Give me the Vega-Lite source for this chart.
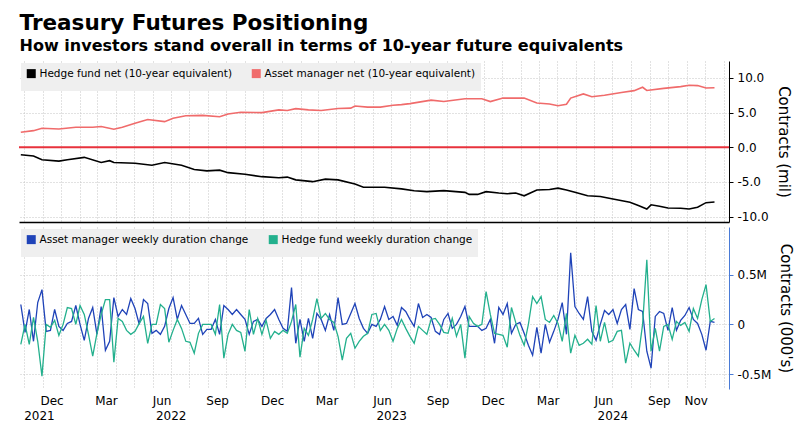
{
  "$schema": "https://vega.github.io/schema/vega-lite/v6.json",
  "padding": {"left": 17, "top": 12, "right": 4, "bottom": 0},
  "title": {
    "text": "Treasury Futures Positioning",
    "subtitle": "How investors stand overall in terms of 10-year future equivalents",
    "anchor": "start",
    "dx": 2,
    "font": "DejaVu Sans",
    "fontSize": 21.5,
    "fontWeight": "bold",
    "color": "#000000",
    "subtitleFont": "DejaVu Sans",
    "subtitleFontSize": 16,
    "subtitleFontWeight": "bold",
    "subtitleColor": "#000000",
    "subtitlePadding": 4,
    "offset": 7
  },
  "config": {
    "font": "DejaVu Sans",
    "view": {"stroke": null},
    "axis": {"labelFont": "DejaVu Sans", "titleFont": "DejaVu Sans", "labelColor": "#000000", "titleColor": "#000000", "titleFontWeight": "normal"},
    "legend": {
      "orient": "top-left",
      "offset": 2,
      "direction": "horizontal",
      "fillColor": "#efefef",
      "padding": 5,
      "symbolType": "square",
      "symbolSize": 16,
      "symbolStrokeWidth": 5,
      "labelFont": "DejaVu Sans",
      "labelFontSize": 10.5,
      "labelColor": "#000000",
      "labelOffset": 3,
      "labelLimit": 400,
      "columnPadding": 12,
      "title": null
    }
  },
  "resolve": {"scale": {"color": "independent", "y": "independent"}, "legend": {"color": "independent"}},
  "datasets": {
    "hedgeNet": [
      {"d": "2021-10-26", "v": -1.07}, {"d": "2021-11-16", "v": -1.25}, {"d": "2021-11-30", "v": -1.8}, {"d": "2021-12-28", "v": -2.0},
      {"d": "2022-01-11", "v": -1.8}, {"d": "2022-02-08", "v": -1.45}, {"d": "2022-03-08", "v": -2.2}, {"d": "2022-03-22", "v": -1.93},
      {"d": "2022-03-29", "v": -2.2}, {"d": "2022-05-03", "v": -2.3}, {"d": "2022-05-31", "v": -2.6}, {"d": "2022-06-21", "v": -2.2},
      {"d": "2022-07-19", "v": -2.6}, {"d": "2022-08-09", "v": -3.2}, {"d": "2022-08-30", "v": -3.4}, {"d": "2022-09-20", "v": -3.3},
      {"d": "2022-10-04", "v": -3.66}, {"d": "2022-11-01", "v": -3.9}, {"d": "2022-11-29", "v": -4.24}, {"d": "2022-12-27", "v": -4.4},
      {"d": "2023-01-10", "v": -4.3}, {"d": "2023-01-24", "v": -4.7}, {"d": "2023-02-21", "v": -4.96}, {"d": "2023-03-14", "v": -4.6},
      {"d": "2023-04-04", "v": -4.7}, {"d": "2023-05-02", "v": -5.3}, {"d": "2023-05-16", "v": -5.77}, {"d": "2023-06-20", "v": -5.77},
      {"d": "2023-07-18", "v": -6.0}, {"d": "2023-08-08", "v": -6.26}, {"d": "2023-08-29", "v": -6.4}, {"d": "2023-09-26", "v": -6.26},
      {"d": "2023-10-31", "v": -6.5}, {"d": "2023-11-07", "v": -6.8}, {"d": "2023-11-21", "v": -6.8}, {"d": "2023-12-05", "v": -6.4},
      {"d": "2023-12-26", "v": -6.6}, {"d": "2024-01-09", "v": -6.7}, {"d": "2024-01-23", "v": -6.6}, {"d": "2024-02-06", "v": -7.0},
      {"d": "2024-02-27", "v": -6.16}, {"d": "2024-03-19", "v": -6.1}, {"d": "2024-04-02", "v": -5.9}, {"d": "2024-04-16", "v": -6.16},
      {"d": "2024-04-30", "v": -6.5}, {"d": "2024-05-21", "v": -7.0}, {"d": "2024-06-11", "v": -7.1}, {"d": "2024-07-02", "v": -7.45},
      {"d": "2024-07-30", "v": -7.94}, {"d": "2024-08-13", "v": -8.4}, {"d": "2024-08-27", "v": -8.9}, {"d": "2024-09-03", "v": -8.3},
      {"d": "2024-09-17", "v": -8.5}, {"d": "2024-10-01", "v": -8.76}, {"d": "2024-10-22", "v": -8.8}, {"d": "2024-11-05", "v": -8.9},
      {"d": "2024-11-19", "v": -8.65}, {"d": "2024-12-03", "v": -7.99}, {"d": "2024-12-17", "v": -7.9}
    ],
    "assetNet": [
      {"d": "2021-10-26", "v": 2.16}, {"d": "2021-11-16", "v": 2.4}, {"d": "2021-11-30", "v": 2.74}, {"d": "2021-12-28", "v": 2.64},
      {"d": "2022-01-25", "v": 2.9}, {"d": "2022-02-22", "v": 2.9}, {"d": "2022-03-08", "v": 3.0}, {"d": "2022-03-29", "v": 2.6},
      {"d": "2022-04-12", "v": 2.9}, {"d": "2022-05-03", "v": 3.46}, {"d": "2022-05-24", "v": 4.0}, {"d": "2022-06-21", "v": 3.7},
      {"d": "2022-07-05", "v": 4.2}, {"d": "2022-07-26", "v": 4.56}, {"d": "2022-08-23", "v": 4.6}, {"d": "2022-09-20", "v": 4.4},
      {"d": "2022-10-04", "v": 4.8}, {"d": "2022-10-25", "v": 5.05}, {"d": "2022-11-29", "v": 5.0}, {"d": "2022-12-27", "v": 5.4},
      {"d": "2023-01-10", "v": 5.3}, {"d": "2023-01-24", "v": 5.57}, {"d": "2023-02-14", "v": 5.4}, {"d": "2023-03-07", "v": 5.3},
      {"d": "2023-04-04", "v": 5.6}, {"d": "2023-04-25", "v": 5.65}, {"d": "2023-05-02", "v": 5.96}, {"d": "2023-05-23", "v": 5.8},
      {"d": "2023-06-13", "v": 5.8}, {"d": "2023-07-04", "v": 6.06}, {"d": "2023-07-18", "v": 6.15}, {"d": "2023-08-01", "v": 6.3},
      {"d": "2023-09-05", "v": 6.8}, {"d": "2023-09-26", "v": 6.6}, {"d": "2023-10-31", "v": 7.0}, {"d": "2023-11-28", "v": 7.0},
      {"d": "2023-12-12", "v": 6.6}, {"d": "2024-01-02", "v": 7.1}, {"d": "2024-02-06", "v": 7.1}, {"d": "2024-02-27", "v": 6.4},
      {"d": "2024-03-19", "v": 6.25}, {"d": "2024-04-02", "v": 6.0}, {"d": "2024-04-16", "v": 6.2}, {"d": "2024-04-23", "v": 7.1},
      {"d": "2024-05-14", "v": 7.7}, {"d": "2024-05-28", "v": 7.3}, {"d": "2024-06-18", "v": 7.5}, {"d": "2024-07-16", "v": 7.9},
      {"d": "2024-08-06", "v": 8.17}, {"d": "2024-08-20", "v": 8.66}, {"d": "2024-08-27", "v": 8.2}, {"d": "2024-09-24", "v": 8.5},
      {"d": "2024-10-22", "v": 8.75}, {"d": "2024-11-05", "v": 8.95}, {"d": "2024-11-19", "v": 8.9}, {"d": "2024-12-03", "v": 8.55},
      {"d": "2024-12-17", "v": 8.6}
    ],
    "weekly": [
      {"d": "2021-10-26", "a": 0.20, "h": -0.20}, {"d": "2021-11-02", "a": -0.08, "h": 0.00}, {"d": "2021-11-09", "a": 0.15, "h": -0.20},
      {"d": "2021-11-16", "a": -0.17, "h": 0.07}, {"d": "2021-11-23", "a": 0.22, "h": -0.17}, {"d": "2021-11-30", "a": 0.35, "h": -0.52},
      {"d": "2021-12-07", "a": -0.07, "h": 0.00}, {"d": "2021-12-14", "a": -0.06, "h": -0.03}, {"d": "2021-12-21", "a": 0.15, "h": 0.04},
      {"d": "2021-12-28", "a": -0.02, "h": -0.11}, {"d": "2022-01-04", "a": -0.06, "h": 0.00}, {"d": "2022-01-11", "a": 0.01, "h": 0.17},
      {"d": "2022-01-18", "a": 0.03, "h": 0.16}, {"d": "2022-01-25", "a": 0.19, "h": 0.00}, {"d": "2022-02-01", "a": 0.00, "h": 0.19},
      {"d": "2022-02-08", "a": -0.16, "h": 0.10}, {"d": "2022-02-15", "a": 0.06, "h": -0.10}, {"d": "2022-02-22", "a": 0.17, "h": -0.32},
      {"d": "2022-03-01", "a": -0.10, "h": -0.09}, {"d": "2022-03-08", "a": 0.18, "h": 0.10}, {"d": "2022-03-15", "a": -0.26, "h": 0.25},
      {"d": "2022-03-22", "a": -0.17, "h": 0.25}, {"d": "2022-03-29", "a": 0.27, "h": -0.38}, {"d": "2022-04-05", "a": 0.08, "h": 0.06},
      {"d": "2022-04-12", "a": 0.15, "h": 0.03}, {"d": "2022-04-19", "a": 0.10, "h": -0.06}, {"d": "2022-04-26", "a": 0.26, "h": -0.10},
      {"d": "2022-05-03", "a": 0.16, "h": -0.07}, {"d": "2022-05-10", "a": 0.00, "h": 0.01}, {"d": "2022-05-17", "a": 0.25, "h": 0.08},
      {"d": "2022-05-24", "a": 0.21, "h": -0.19}, {"d": "2022-05-31", "a": -0.09, "h": 0.00}, {"d": "2022-06-07", "a": -0.06, "h": 0.00},
      {"d": "2022-06-14", "a": -0.10, "h": 0.20}, {"d": "2022-06-21", "a": -0.02, "h": 0.16}, {"d": "2022-06-28", "a": 0.16, "h": -0.18},
      {"d": "2022-07-05", "a": 0.27, "h": -0.06}, {"d": "2022-07-12", "a": 0.05, "h": 0.05}, {"d": "2022-07-19", "a": 0.19, "h": -0.04},
      {"d": "2022-07-26", "a": 0.10, "h": -0.17}, {"d": "2022-08-02", "a": 0.01, "h": -0.18}, {"d": "2022-08-09", "a": 0.01, "h": -0.29},
      {"d": "2022-08-16", "a": 0.06, "h": -0.09}, {"d": "2022-08-23", "a": -0.10, "h": 0.00}, {"d": "2022-08-30", "a": -0.05, "h": 0.00},
      {"d": "2022-09-06", "a": -0.05, "h": 0.00}, {"d": "2022-09-13", "a": 0.05, "h": -0.10}, {"d": "2022-09-20", "a": -0.10, "h": 0.20},
      {"d": "2022-09-27", "a": 0.19, "h": -0.34}, {"d": "2022-10-04", "a": 0.15, "h": -0.10}, {"d": "2022-10-11", "a": 0.10, "h": 0.00},
      {"d": "2022-10-18", "a": 0.15, "h": -0.06}, {"d": "2022-10-25", "a": 0.10, "h": -0.08}, {"d": "2022-11-01", "a": 0.05, "h": -0.27},
      {"d": "2022-11-08", "a": -0.10, "h": 0.15}, {"d": "2022-11-15", "a": 0.03, "h": -0.10}, {"d": "2022-11-22", "a": 0.05, "h": 0.06},
      {"d": "2022-11-29", "a": -0.02, "h": -0.10}, {"d": "2022-12-06", "a": 0.06, "h": 0.04}, {"d": "2022-12-13", "a": 0.10, "h": -0.14},
      {"d": "2022-12-20", "a": 0.15, "h": -0.07}, {"d": "2022-12-27", "a": 0.05, "h": -0.10}, {"d": "2023-01-03", "a": -0.04, "h": -0.06},
      {"d": "2023-01-10", "a": -0.07, "h": -0.09}, {"d": "2023-01-17", "a": 0.37, "h": 0.03}, {"d": "2023-01-24", "a": -0.19, "h": 0.20},
      {"d": "2023-01-31", "a": 0.05, "h": -0.33}, {"d": "2023-02-07", "a": -0.17, "h": -0.04}, {"d": "2023-02-14", "a": 0.06, "h": -0.11},
      {"d": "2023-02-21", "a": -0.14, "h": 0.05}, {"d": "2023-02-28", "a": 0.11, "h": 0.26}, {"d": "2023-03-07", "a": 0.05, "h": 0.06},
      {"d": "2023-03-14", "a": -0.06, "h": 0.11}, {"d": "2023-03-21", "a": 0.10, "h": 0.05}, {"d": "2023-03-28", "a": -0.06, "h": 0.02},
      {"d": "2023-04-04", "a": 0.27, "h": -0.12}, {"d": "2023-04-11", "a": 0.00, "h": -0.36}, {"d": "2023-04-18", "a": 0.01, "h": -0.14},
      {"d": "2023-04-25", "a": 0.11, "h": -0.09}, {"d": "2023-05-02", "a": 0.21, "h": -0.24}, {"d": "2023-05-09", "a": 0.06, "h": -0.17},
      {"d": "2023-05-16", "a": -0.04, "h": -0.12}, {"d": "2023-05-23", "a": -0.09, "h": -0.09}, {"d": "2023-05-30", "a": 0.00, "h": 0.10},
      {"d": "2023-06-06", "a": -0.02, "h": 0.11}, {"d": "2023-06-13", "a": 0.05, "h": -0.06}, {"d": "2023-06-20", "a": 0.18, "h": 0.00},
      {"d": "2023-06-27", "a": 0.05, "h": -0.06}, {"d": "2023-07-04", "a": 0.08, "h": -0.17}, {"d": "2023-07-11", "a": -0.01, "h": -0.04},
      {"d": "2023-07-18", "a": 0.17, "h": 0.05}, {"d": "2023-07-25", "a": 0.13, "h": -0.04}, {"d": "2023-08-01", "a": 0.05, "h": -0.12},
      {"d": "2023-08-08", "a": -0.02, "h": -0.19}, {"d": "2023-08-15", "a": 0.21, "h": -0.02}, {"d": "2023-08-22", "a": 0.07, "h": -0.06},
      {"d": "2023-08-29", "a": 0.10, "h": -0.10}, {"d": "2023-09-05", "a": 0.07, "h": 0.05}, {"d": "2023-09-12", "a": -0.07, "h": 0.06},
      {"d": "2023-09-19", "a": -0.10, "h": 0.00}, {"d": "2023-09-26", "a": 0.05, "h": -0.08}, {"d": "2023-10-03", "a": 0.11, "h": -0.09},
      {"d": "2023-10-10", "a": -0.04, "h": 0.06}, {"d": "2023-10-17", "a": 0.00, "h": -0.12}, {"d": "2023-10-24", "a": 0.08, "h": 0.00},
      {"d": "2023-10-31", "a": 0.18, "h": -0.34}, {"d": "2023-11-07", "a": -0.02, "h": 0.08}, {"d": "2023-11-14", "a": -0.02, "h": 0.01},
      {"d": "2023-11-21", "a": -0.02, "h": -0.02}, {"d": "2023-11-28", "a": -0.06, "h": 0.00}, {"d": "2023-12-05", "a": -0.04, "h": 0.33},
      {"d": "2023-12-12", "a": 0.05, "h": 0.10}, {"d": "2023-12-19", "a": -0.19, "h": -0.09}, {"d": "2023-12-26", "a": 0.17, "h": -0.10},
      {"d": "2024-01-02", "a": 0.10, "h": -0.11}, {"d": "2024-01-09", "a": 0.21, "h": -0.23}, {"d": "2024-01-16", "a": -0.09, "h": 0.17},
      {"d": "2024-01-23", "a": 0.00, "h": 0.02}, {"d": "2024-01-30", "a": 0.02, "h": -0.11}, {"d": "2024-02-06", "a": -0.09, "h": -0.21},
      {"d": "2024-02-13", "a": -0.21, "h": 0.00}, {"d": "2024-02-20", "a": -0.31, "h": 0.28}, {"d": "2024-02-27", "a": -0.03, "h": 0.21},
      {"d": "2024-03-05", "a": -0.29, "h": 0.28}, {"d": "2024-03-12", "a": 0.00, "h": 0.05}, {"d": "2024-03-19", "a": -0.18, "h": 0.02},
      {"d": "2024-03-26", "a": -0.07, "h": 0.09}, {"d": "2024-04-02", "a": 0.05, "h": 0.01}, {"d": "2024-04-09", "a": 0.22, "h": -0.17},
      {"d": "2024-04-16", "a": -0.10, "h": 0.11}, {"d": "2024-04-23", "a": 0.72, "h": -0.29}, {"d": "2024-04-30", "a": 0.18, "h": -0.11},
      {"d": "2024-05-07", "a": 0.11, "h": -0.21}, {"d": "2024-05-14", "a": 0.05, "h": -0.19}, {"d": "2024-05-21", "a": 0.28, "h": -0.15},
      {"d": "2024-05-28", "a": -0.07, "h": -0.20}, {"d": "2024-06-04", "a": -0.16, "h": 0.19}, {"d": "2024-06-11", "a": 0.00, "h": -0.17},
      {"d": "2024-06-18", "a": 0.14, "h": 0.02}, {"d": "2024-06-25", "a": 0.10, "h": -0.18}, {"d": "2024-07-02", "a": 0.15, "h": -0.16},
      {"d": "2024-07-09", "a": 0.01, "h": -0.07}, {"d": "2024-07-16", "a": 0.15, "h": -0.06}, {"d": "2024-07-23", "a": 0.20, "h": -0.39},
      {"d": "2024-07-30", "a": -0.05, "h": -0.19}, {"d": "2024-08-06", "a": 0.36, "h": -0.26}, {"d": "2024-08-13", "a": 0.15, "h": -0.32},
      {"d": "2024-08-20", "a": 0.13, "h": 0.00}, {"d": "2024-08-27", "a": -0.27, "h": 0.65}, {"d": "2024-09-03", "a": -0.44, "h": -0.27},
      {"d": "2024-09-10", "a": 0.08, "h": -0.04}, {"d": "2024-09-17", "a": 0.13, "h": -0.27}, {"d": "2024-09-24", "a": 0.11, "h": -0.02},
      {"d": "2024-10-01", "a": -0.06, "h": 0.00}, {"d": "2024-10-08", "a": 0.17, "h": -0.15}, {"d": "2024-10-15", "a": -0.06, "h": 0.03},
      {"d": "2024-10-22", "a": 0.04, "h": -0.01}, {"d": "2024-10-29", "a": 0.09, "h": 0.02}, {"d": "2024-11-05", "a": 0.17, "h": -0.07},
      {"d": "2024-11-12", "a": 0.05, "h": 0.16}, {"d": "2024-11-19", "a": 0.01, "h": 0.06}, {"d": "2024-11-26", "a": -0.10, "h": 0.25},
      {"d": "2024-12-03", "a": -0.26, "h": 0.40}, {"d": "2024-12-10", "a": 0.03, "h": 0.03}, {"d": "2024-12-17", "a": 0.02, "h": 0.06}
    ]
  },
  "spacing": 4,
  "vconcat": [
    {
      "width": 710,
      "height": 161,
      "layer": [
        {
          "data": {"name": "hedgeNet"},
          "mark": {"type": "line", "strokeWidth": 1.6},
          "encoding": {
            "x": {
              "field": "d", "type": "temporal",
              "scale": {"domain": [{"year": 2021, "month": 10, "date": 23}, {"year": 2025, "month": 1, "date": 10}]},
              "axis": {"title": null, "labels": false, "ticks": false, "domain": true, "domainColor": "#000000", "domainWidth": 1.5, "grid": true, "gridColor": "#c4c4c4", "gridDash": [1, 2], "tickCount": {"interval": "month", "step": 1}}
            },
            "y": {
              "field": "v", "type": "quantitative",
              "scale": {"domain": [-10.78, 12.45], "nice": false, "zero": false},
              "axis": {
                "orient": "right", "title": "Contracts (mil)", "titleFontSize": 15, "titlePadding": 7,
                "values": [-10, -7.5, -5, -2.5, 0, 2.5, 5, 7.5, 10],
                "labelExpr": "datum.value % 5 == 0 ? (datum.value < 0 ? '-' : '') + format(abs(datum.value), '.1f') : ''",
                "labelFontSize": 12, "labelPadding": 4, "tickSize": 4, "tickColor": "#000000", "domainColor": "#000000",
                "grid": true, "gridColor": "#c4c4c4", "gridDash": [1, 2],
                "gridOpacity": {"condition": {"test": "datum.value % 5 != 0", "value": 0}, "value": 1}
              }
            },
            "color": {
              "datum": "Hedge fund net (10-year equivalent)",
              "scale": {"domain": ["Hedge fund net (10-year equivalent)", "Asset manager net (10-year equivalent)"], "range": ["#000000", "#f06b6b"]}
            }
          }
        },
        {
          "data": {"name": "assetNet"},
          "mark": {"type": "line", "strokeWidth": 1.6},
          "encoding": {
            "x": {"field": "d", "type": "temporal"},
            "y": {"field": "v", "type": "quantitative"},
            "color": {"datum": "Asset manager net (10-year equivalent)"}
          }
        },
        {
          "data": {"values": [{"z": 0}]},
          "mark": {"type": "rule", "color": "#e8323c", "strokeWidth": 2},
          "encoding": {"y": {"field": "z", "type": "quantitative", "title": "Contracts (mil)"}}
        }
      ]
    },
    {
      "width": 710,
      "height": 162,
      "data": {"name": "weekly"},
      "resolve": {"axis": {"x": "independent"}},
      "layer": [
        {
          "mark": {"type": "line", "strokeWidth": 1.3},
          "encoding": {
            "x": {
              "field": "d", "type": "temporal",
              "scale": {"domain": [{"year": 2021, "month": 10, "date": 23}, {"year": 2025, "month": 1, "date": 10}]},
              "axis": {
                "orient": "bottom", "title": null, "tickCount": {"interval": "month", "step": 1},
                "labelExpr": "((month(datum.value) % 3 == 2) && !(year(datum.value) == 2024 && month(datum.value) == 11)) || (year(datum.value) == 2024 && month(datum.value) == 10) ? timeFormat(datum.value, '%b') : ''",
                "labelOffset": 9, "labelFlush": false, "labelOverlap": false, "labelPadding": 6, "labelFontSize": 12,
                "ticks": false, "domain": false, "grid": true, "gridColor": "#c4c4c4", "gridDash": [1, 2]
              }
            },
            "y": {
              "field": "a", "type": "quantitative",
              "scale": {"domain": [-0.65, 0.98], "nice": false, "zero": false},
              "axis": {
                "orient": "right", "title": "Contracts (000's)", "titleFontSize": 15, "titlePadding": 7,
                "values": [-0.5, -0.25, 0, 0.25, 0.5, 0.75],
                "labelExpr": "datum.value == 0 ? '0' : (abs(datum.value) == 0.5 ? (datum.value < 0 ? '-' : '') + '0.5M' : '')",
                "labelFontSize": 12, "labelPadding": 4, "tickSize": 4, "tickColor": "#4a7bd6", "domainColor": "#4a7bd6",
                "grid": true, "gridColor": "#c4c4c4", "gridDash": [1, 2],
                "gridOpacity": {"condition": {"test": "datum.value % 0.5 != 0", "value": 0}, "value": 1}
              }
            },
            "color": {
              "datum": "Asset manager weekly duration change",
              "scale": {"domain": ["Asset manager weekly duration change", "Hedge fund weekly duration change"], "range": ["#1f43b8", "#23b08d"]}
            }
          }
        },
        {
          "mark": {"type": "line", "strokeWidth": 1.3},
          "encoding": {
            "x": {
              "field": "d", "type": "temporal",
              "axis": {
                "orient": "bottom", "title": null, "offset": 15,
                "values": [{"year": 2021, "month": 11, "date": 25}, {"year": 2022, "month": 7, "date": 1}, {"year": 2023, "month": 7, "date": 1}, {"year": 2024, "month": 7, "date": 1}],
                "format": "%Y", "labelFlush": false, "labelOverlap": false, "labelPadding": 6, "labelFontSize": 12,
                "ticks": false, "domain": false, "grid": false
              }
            },
            "y": {"field": "h", "type": "quantitative", "title": "Contracts (000's)"},
            "color": {"datum": "Hedge fund weekly duration change"}
          }
        }
      ]
    }
  ]
}
